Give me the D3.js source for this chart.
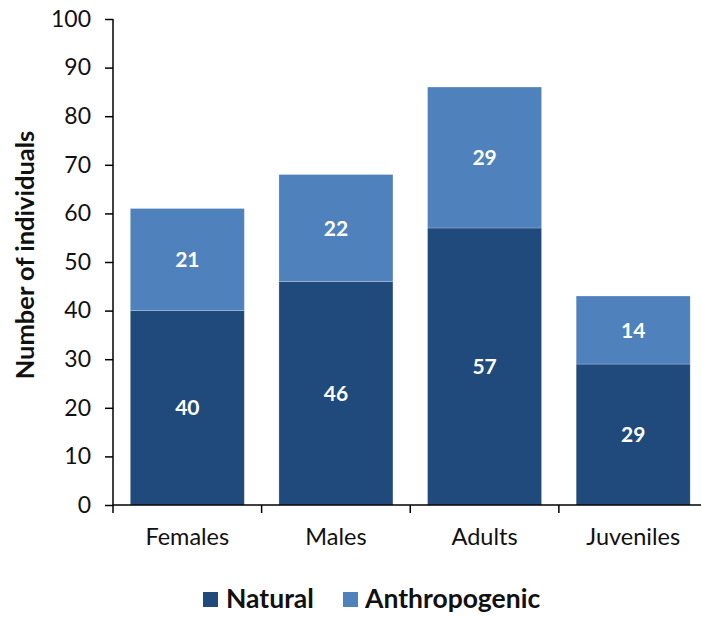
<!DOCTYPE html>
<html><head><meta charset="utf-8">
<script src="https://cdn.jsdelivr.net/npm/d3@7"></script>
<style>body{margin:0;background:#fff}text{font-family:Lato,"Open Sans",sans-serif}</style>
</head><body><svg id="c" width="701" height="617"></svg>
<script>
const categories = ["Females","Males","Adults","Juveniles"];
const natural = [40,46,57,29];
const anthropogenic = [21,22,29,14];
const seriesNames = ["Natural","Anthropogenic"];
const yTicks = [0,10,20,30,40,50,60,70,80,90,100];
const colors = ["#214a7c","#4f81bd"];

const svg = d3.select("#c");
const x = d3.scaleBand().domain(categories).range([113,707.5]).paddingInner(0.233).paddingOuter(0.1165);
const y = d3.scaleLinear().domain([0,100]).range([505,19]);

const rows = categories.map((c,i)=>({cat:c, Natural:natural[i], Anthropogenic:anthropogenic[i]}));
const stack = d3.stack().keys(seriesNames)(rows);

const g = svg.append("g");
stack.forEach((s,si)=>{
  g.selectAll(null).data(s).enter().append("rect")
    .attr("x",d=>x(d.data.cat)).attr("width",x.bandwidth())
    .attr("y",d=>y(d[1])).attr("height",d=>y(d[0])-y(d[1]))
    .attr("fill",colors[si]).attr("stroke","#ffffff").attr("stroke-opacity",0.3).attr("stroke-width",0.7);
  g.selectAll(null).data(s).enter().append("text")
    .attr("x",d=>x(d.data.cat)+x.bandwidth()/2)
    .attr("y",d=>(y(d[0])+y(d[1]))/2)
    .attr("dy","0.36em").attr("text-anchor","middle")
    .attr("fill","#fff").style("font-weight","bold").style("font-size","21px")
    .text(d=>d[1]-d[0]);
});

// y axis
const ya = svg.append("g").attr("transform","translate(113,0)")
  .call(d3.axisLeft(y).tickValues(yTicks).tickSize(8).tickPadding(14));
ya.attr("font-size",null).attr("font-family",null);
ya.select(".domain").attr("stroke","#000").attr("stroke-width",1.5).attr("d","M0,19V505");
ya.selectAll(".tick line").attr("stroke","#000").attr("stroke-width",1.5);
ya.selectAll(".tick text").style("font-size","23px").attr("fill","#111");

// x axis
const xa = svg.append("g").attr("transform","translate(0,505)");
xa.append("line").attr("x1",113).attr("x2",707.5).attr("y1",0).attr("y2",0).attr("stroke","#000").attr("stroke-width",1.5);
const edges = categories.map(c=>x(c)-x.step()*x.paddingInner()/2);
xa.selectAll(null).data(edges).enter().append("line")
  .attr("x1",d=>d).attr("x2",d=>d).attr("y1",0).attr("y2",8).attr("stroke","#000").attr("stroke-width",1.5);
xa.selectAll(null).data(categories).enter().append("text")
  .attr("x",d=>x(d)+x.bandwidth()/2).attr("y",40)
  .attr("text-anchor","middle").style("font-size","23.5px").attr("fill","#111").text(d=>d);

// y title
svg.append("text").attr("transform","translate(34,255) rotate(-90)")
  .attr("text-anchor","middle").style("font-size","25.5px").style("font-weight","bold").attr("fill","#111")
  .text("Number of individuals");

// legend
const leg = [{n:"Natural",sx:203,tx:226},{n:"Anthropogenic",sx:343,tx:365}];
leg.forEach((l,i)=>{
  svg.append("rect").attr("x",l.sx).attr("y",592).attr("width",15).attr("height",15).attr("fill",colors[i]);
  svg.append("text").attr("x",l.tx).attr("y",608).style("font-size","26.5px").style("font-weight","bold").attr("fill","#111").text(l.n);
});
</script></body></html>
